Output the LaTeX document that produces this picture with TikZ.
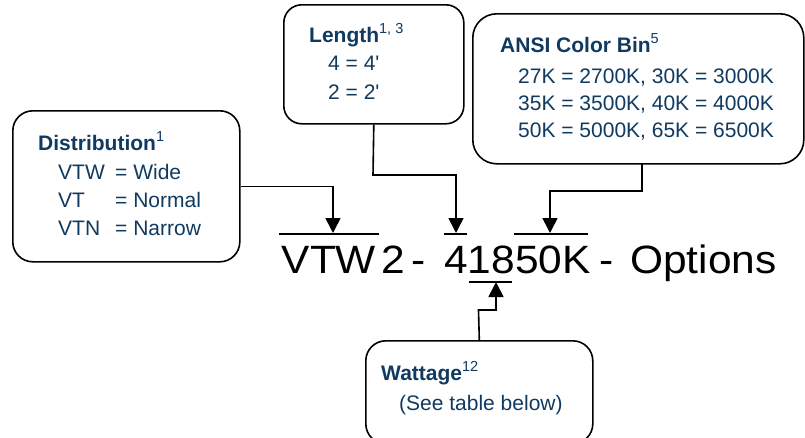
\documentclass[tikz,border=0pt]{standalone}
\usepackage{fontspec}
\newfontfamily\arialf{Liberation Sans}
\usetikzlibrary{arrows.meta,calc}
\definecolor{txtblue}{RGB}{16,58,96}
\tikzset{
  box/.style={draw=black, line width=1.6pt, rounded corners=20pt, fill=white, inner sep=0pt, anchor=north west},
  boxtxt/.style={anchor=base west, inner sep=0pt, text=txtblue, font=\arialf\fontsize{21}{24}\selectfont},
  boxtitle/.style={boxtxt, font=\arialf\bfseries\fontsize{21}{24}\selectfont},
  bigtxt/.style={anchor=base west, inner sep=0pt, text=black, font=\arialf\fontsize{39.5}{44}\selectfont},
  conn/.style={draw=black, line width=1.6pt, -{Triangle[width=15pt,length=15pt]}},
  bar/.style={draw=black, line width=1.6pt},
}
\newcommand{\supx}[1]{\raisebox{8.5pt}{\mdseries\fontsize{14.5}{15}\selectfont #1}}
\newcommand{\bigpart}[1]{\scalebox{1.075}[1]{#1}}
\begin{document}
\begin{tikzpicture}[x=1pt,y=-1pt]
\useasboundingbox (0,0) rectangle (805,437);
\clip (0,0) rectangle (805,437);
\fill[white] (0,0) rectangle (805,437);

% boxes
\node[box, minimum width=227pt, minimum height=151pt] (dist) at (12,110) {};
\node[box, minimum width=180pt, minimum height=119pt, rounded corners=18pt] (len) at (283,4) {};
\node[box, minimum width=331pt, minimum height=150pt, rounded corners=24pt] (ansi) at (472,13) {};
\node[box, minimum width=227pt, minimum height=103pt] (watt) at (365,340) {};

% distribution text
\node[boxtitle] (distT) at (38,150) {Distribution\supx{1}};
\node[boxtxt] (dist1) at (58,179) {\makebox[57pt][l]{VTW}= Wide};
\node[boxtxt] (dist2) at (58,207) {\makebox[57pt][l]{VT}= Normal};
\node[boxtxt] (dist3) at (58,235) {\makebox[57pt][l]{VTN}= Narrow};

% length text
\node[boxtitle] (lenT) at (309,42) {Length\supx{1, 3}};
\node[boxtxt] (len1) at (328,70) {4 = 4'};
\node[boxtxt] (len2) at (328,99) {2 = 2'};

% ANSI text
\node[boxtitle] (ansiT) at (500,52) {ANSI Color Bin\supx{5}};
\node[boxtxt] (ansi1) at (518,83) {27K = 2700K, 30K = 3000K};
\node[boxtxt] (ansi2) at (518,110) {35K = 3500K, 40K = 4000K};
\node[boxtxt] (ansi3) at (518,137) {50K = 5000K, 65K = 6500K};

% wattage text
\node[boxtitle] (wattT) at (381,380) {Wattage\supx{12}};
\node[boxtxt] (watt1) at (399,410) {(See table below)};

% main code
\node[bigtxt] (mA) at (281.5,273) {\bigpart{VTW}};
\node[bigtxt] (mB) at (381,273) {\bigpart{2}};
\node[bigtxt] (mC) at (411,273) {\bigpart{-}};
\node[bigtxt] (mD) at (444,273) {\bigpart{41850K}};
\node[bigtxt] (mE) at (599,273) {\bigpart{-}};
\node[bigtxt] (mF) at (630,273) {\bigpart{Options}};

% overlines / underline
\coordinate (oA1) at (279,234); \coordinate (oA2) at (379,234);
\coordinate (oD1) at (444,234); \coordinate (oD2) at (467,234);
\coordinate (oK1) at (514,234); \coordinate (oK2) at (588,234);
\coordinate (u1) at (469,282); \coordinate (u2) at (512,282);
\draw[bar] (oA1) -- (oA2);
\draw[bar] (oD1) -- (oD2);
\draw[bar] (oK1) -- (oK2);
\draw[bar] (u1) -- (u2);

% arrow targets
\coordinate (tA) at (333,233);
\coordinate (tD) at (456,233);
\coordinate (tK) at (550,233);
\coordinate (tW) at (496,282);
\coordinate (lenturn) at (373,175);
\coordinate (ansiout) at (642,163);
\coordinate (ansiturn) at (642,191);
\coordinate (wattturn) at (478.5,310);

% connectors
\draw[conn] (dist.east) -| (tA);
\draw[conn] (len.south) -- (lenturn) -| (tD);
\draw[conn] (ansiout) -- (ansiturn) -| (tK);
\draw[conn] (watt.north) -- (wattturn) -| (tW);
\end{tikzpicture}
\end{document}
